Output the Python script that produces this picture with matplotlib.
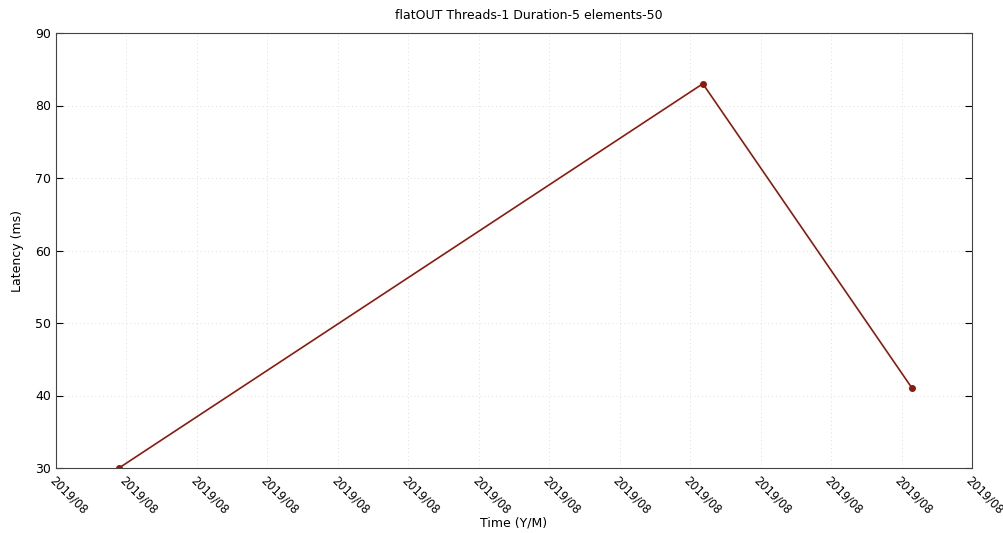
"""
flatOUT latency chart
"""
import matplotlib
matplotlib.use("Agg")
import matplotlib.pyplot as plt

# temps en unites d'intervalle de graduation (l'axe va de 0 a 13)
temps = [0.894, 9.18, 12.15]
latence = [30, 83, 41]

xticks = list(range(14))
xlabels = ["2019/08"] * 14
yticks = [30, 40, 50, 60, 70, 80, 90]

fig = plt.figure(figsize=(10.04, 5.33), dpi=100)
ax = fig.add_axes([56 / 1004, 1 - 468 / 533, (972 - 56) / 1004, (468 - 33) / 533])

ax.plot(temps, latence, color="#8b1a0e", lw=1.2, marker="o", ms=4)

ax.set_xlim(0, 13)
ax.set_ylim(30, 90)
ax.set_xticks(xticks)
ax.set_xticklabels(xlabels, rotation=-45, ha="left", va="top", rotation_mode="anchor", fontsize=8.3)
ax.set_yticks(yticks)
ax.tick_params(axis="y", direction="in", right=True, length=5, labelsize=9)
ax.tick_params(axis="x", length=0, pad=4)
ax.grid(True, linestyle=(0, (1, 3)), color="#dddddd", lw=0.7)
for s in ax.spines.values():
    s.set_color("#444444")

ax.set_title("flatOUT Threads-1 Duration-5 elements-50", fontsize=9, pad=10, x=0.516)
ax.set_xlabel("Time (Y/M)", fontsize=9, labelpad=0)
ax.set_ylabel("Latency (ms)", fontsize=9, labelpad=8)

fig.savefig("out.png", dpi=100)
